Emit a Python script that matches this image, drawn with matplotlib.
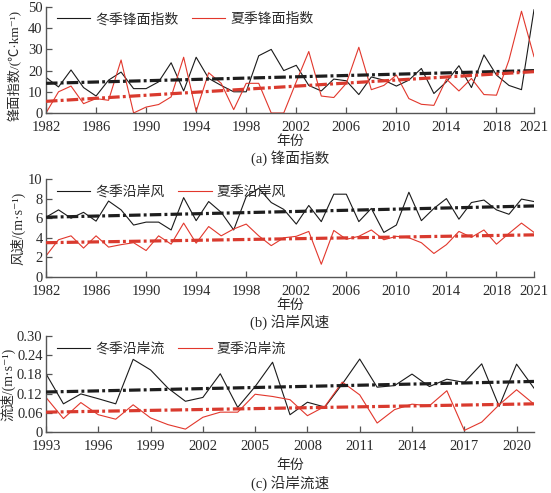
import numpy as np
import matplotlib
matplotlib.use("Agg")
import matplotlib.pyplot as plt

plt.rcParams['font.family'] = ['Liberation Serif', 'Noto Sans CJK SC', 'DejaVu Sans']

# ---------------- data ----------------
years_a = list(range(1982, 2022))
front_winter = [16.8, 12.3, 20.3, 12.0, 8.0, 15.5, 19.3, 11.5, 11.5, 14.7,
                23.7, 10.4, 26.3, 16.3, 13.0, 10.0, 10.0, 27.0, 30.0, 20.0,
                22.5, 13.0, 10.4, 16.0, 15.2, 8.7, 17.0, 15.5, 12.7, 15.5,
                21.0, 9.2, 14.7, 22.3, 12.0, 27.4, 17.9, 13.0, 11.0, 48.7]
front_summer = [0.0, 10.0, 12.7, 4.4, 6.8, 6.0, 25.0, 0.0, 2.8, 4.0,
                7.6, 26.3, 0.8, 19.0, 14.0, 1.6, 14.0, 14.0, 0.0, 0.0,
                14.7, 29.0, 8.0, 7.3, 14.0, 31.0, 11.0, 13.0, 17.9, 6.8,
                4.1, 3.6, 16.0, 10.4, 16.3, 8.7, 8.4, 25.0, 48.0, 26.6]

wind_winter = [6.1, 6.85, 6.0, 6.6, 5.7, 7.75, 6.85, 5.3, 5.6, 5.6,
               4.8, 8.1, 5.75, 7.7, 6.6, 4.8, 8.2, 9.05, 7.6, 6.9,
               5.4, 7.3, 5.65, 8.45, 8.45, 5.65, 7.0, 4.55, 5.3, 8.65,
               5.75, 7.0, 8.0, 5.9, 7.6, 7.85, 6.85, 6.4, 7.95, 7.7]
wind_summer = [2.15, 3.8, 4.2, 2.95, 4.2, 3.05, 3.3, 3.5, 2.7, 4.2,
               3.35, 5.5, 3.45, 5.15, 4.2, 4.9, 5.4, 4.2, 3.2, 4.0,
               4.15, 4.65, 1.3, 4.75, 3.85, 4.15, 4.8, 3.8, 4.15, 4.0,
               3.5, 2.4, 3.3, 4.65, 4.05, 4.8, 3.35, 4.45, 5.5, 4.55]

years_c = list(range(1993, 2022))
current_winter = [0.182, 0.088, 0.119, 0.104, 0.088, 0.227, 0.194, 0.137, 0.096, 0.108,
                  0.182, 0.077, 0.142, 0.218, 0.054, 0.093, 0.078, 0.150, 0.228, 0.140,
                  0.145, 0.181, 0.142, 0.165, 0.155, 0.213, 0.080, 0.212, 0.137]
current_summer = [0.108, 0.042, 0.092, 0.054, 0.040, 0.085, 0.044, 0.023, 0.009, 0.046,
                  0.062, 0.062, 0.118, 0.111, 0.101, 0.051, 0.080, 0.156, 0.116, 0.028,
                  0.070, 0.087, 0.082, 0.129, 0.005, 0.031, 0.085, 0.132, 0.087]

# trend line end values (start year, end year)
trend_front_winter = [14.0, 20.0]
trend_front_summer = [5.5, 19.5]
trend_wind_winter = [6.1, 7.25]
trend_wind_summer = [3.5, 4.3]
trend_current_winter = [0.125, 0.158]
trend_current_summer = [0.062, 0.088]

xticks_a = [1982, 1986, 1990, 1994, 1998, 2002, 2006, 2010, 2014, 2018, 2021]
xticks_c = [1993, 1996, 1999, 2002, 2005, 2008, 2011, 2014, 2017, 2020]
yticks_a = [0, 10, 20, 30, 40, 50]
yticks_b = [0, 2, 4, 6, 8, 10]
yticks_c = [0, 0.06, 0.12, 0.18, 0.24, 0.30]
ylabels_c = ['0', '0.06', '0.12', '0.18', '0.24', '0.30']

# ---------------- style ----------------
BLACK = '#1a1a1a'
RED = '#e2372c'
TBLACK = '#1e1e1e'
TRED = '#d93a2e'
AXC = '#555555'
TXT = '#2a2a2a'
CJK = ['Noto Sans CJK SC', 'DejaVu Sans']
MIX = ['Liberation Serif', 'Noto Sans CJK SC', 'DejaVu Sans']

fig = plt.figure(figsize=(5.51, 4.93), dpi=100)
W, H = 551, 493
AL, AR = 46, 534

def ax_at(t, b):
    return fig.add_axes([AL / W, 1 - b / H, (AR - AL) / W, (b - t) / H])

def style(ax, xticks, yticks, ylabels, xlim, ylim, ylabel, leg_labels, lab_right,
          lab_y=0.5, lab_size=10):
    ax.set_xlim(*xlim)
    ax.set_ylim(*ylim)
    ax.set_xticks(xticks)
    ax.set_xticklabels([str(v) for v in xticks])
    ax.set_yticks(yticks)
    ax.set_yticklabels(ylabels)
    for s in ['top', 'right']:
        ax.spines[s].set_visible(False)
    for s in ['left', 'bottom']:
        ax.spines[s].set_color(AXC)
        ax.spines[s].set_linewidth(1.0)
    ax.tick_params(direction='in', length=4, width=0.9, color=AXC,
                   labelsize=10.5, labelcolor=TXT, pad=2.5)
    ax.tick_params(axis='x', pad=6)
    for lab in ax.get_xticklabels() + ax.get_yticklabels():
        lab.set_family('Liberation Serif')
    ax.set_ylabel(ylabel, fontsize=lab_size, color=TXT, family=MIX)
    ax.yaxis.set_label_coords((lab_right - AL) / (AR - AL), lab_y)
    leg = ax.legend(leg_labels[0], leg_labels[1], loc='upper left', ncol=2, frameon=False,
                    prop={'family': CJK, 'size': 10}, handlelength=2.4,
                    handletextpad=0.35, columnspacing=1.0,
                    bbox_to_anchor=(0.005, 1.03), borderaxespad=0.2)
    for t in leg.get_texts():
        t.set_color(TXT)

def trend(ax, x, ends, color):
    ax.plot([x[0], x[-1]], ends, color=color, lw=2.3, dashes=(3.6, 1.0, 0.9, 1.0),
            solid_capstyle='butt', dash_capstyle='butt', zorder=3)

# ---- (a) ----
ax1 = ax_at(7, 113)
l1, = ax1.plot(years_a, front_winter, color=BLACK, lw=0.8, zorder=2)
l2, = ax1.plot(years_a, front_summer, color=RED, lw=0.8, zorder=2)
trend(ax1, years_a, trend_front_winter, TBLACK)
trend(ax1, years_a, trend_front_summer, TRED)
style(ax1, xticks_a, yticks_a, [str(v) for v in yticks_a], (1982, 2021), (0, 50),
      '锋面指数/(℃·km⁻¹)', ([l1, l2], ['冬季锋面指数', '夏季锋面指数']), 22, 0.45, 9.5)

# ---- (b) ----
ax2 = ax_at(179, 277)
l1, = ax2.plot(years_a, wind_winter, color=BLACK, lw=0.8, zorder=2)
l2, = ax2.plot(years_a, wind_summer, color=RED, lw=0.8, zorder=2)
trend(ax2, years_a, trend_wind_winter, TBLACK)
trend(ax2, years_a, trend_wind_summer, TRED)
style(ax2, xticks_a, yticks_b, [str(v) for v in yticks_b], (1982, 2021), (0, 10),
      '风速/(m·s⁻¹)', ([l1, l2], ['冬季沿岸风', '夏季沿岸风']), 25)

# ---- (c) ----
ax3 = ax_at(336, 432)
l1, = ax3.plot(years_c, current_winter, color=BLACK, lw=0.8, zorder=2)
l2, = ax3.plot(years_c, current_summer, color=RED, lw=0.8, zorder=2)
trend(ax3, years_c, trend_current_winter, TBLACK)
trend(ax3, years_c, trend_current_summer, TRED)
style(ax3, xticks_c, yticks_c, ylabels_c, (1993, 2021), (0, 0.30),
      '流速/(m·s⁻¹)', ([l1, l2], ['冬季沿岸流', '夏季沿岸流']), 15)

# ---- captions ----
cx = (AL + AR) / 2 / W
for y_year, y_cap, cap in [(141, 158, '(a) 锋面指数'),
                           (305, 322, '(b) 沿岸风速'),
                           (465, 483, '(c) 沿岸流速')]:
    fig.text(cx, 1 - y_year / H, '年份', ha='center', va='center',
             fontsize=10, color=TXT, family=CJK)
    fig.text(cx, 1 - y_cap / H, cap, ha='center', va='center',
             fontsize=10.5, color=TXT, family=MIX)

fig.savefig('out.png', dpi=100)
